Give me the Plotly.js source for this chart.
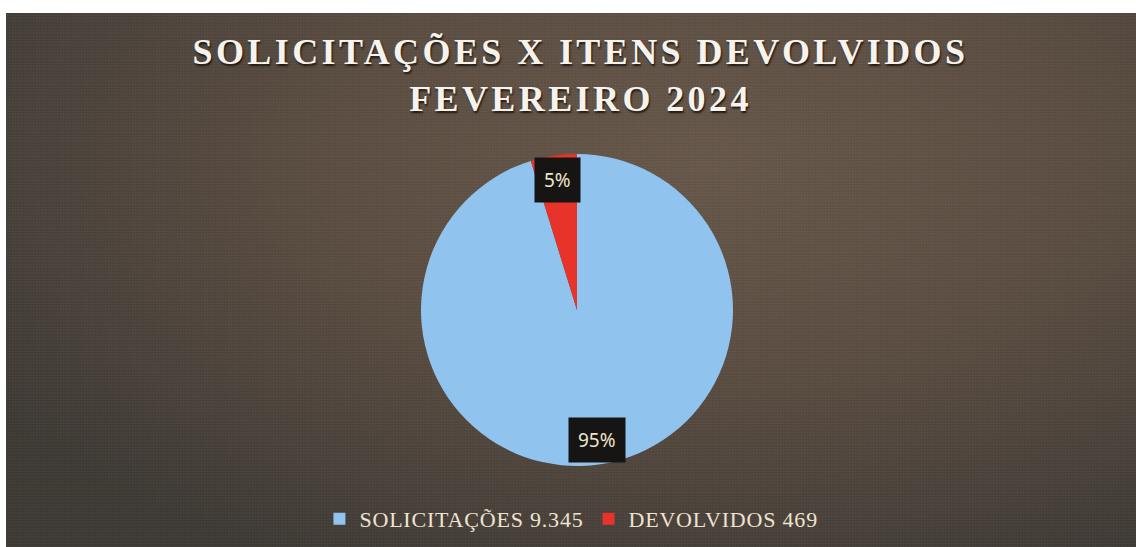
<!DOCTYPE html>
<html>
<head>
<meta charset="utf-8">
<script src="https://cdn.plot.ly/plotly-3.0.1.min.js"></script>
<style>
  html, body { margin: 0; padding: 0; background: #ffffff; }
  #wrap { position: relative; width: 1136px; height: 547px; overflow: hidden; background: #fff; }
  #bg {
    position: absolute; left: 6px; top: 13px; right: 0; bottom: 0;
    background:
      repeating-linear-gradient(0deg, rgba(255,255,255,0.025) 0px, rgba(255,255,255,0.025) 1px, rgba(0,0,0,0.03) 2px, rgba(0,0,0,0) 3px),
      repeating-linear-gradient(90deg, rgba(255,255,255,0.02) 0px, rgba(0,0,0,0.03) 2px, rgba(0,0,0,0) 3px),
      radial-gradient(ellipse 75% 85% at 62% 28%, #67574a 0%, #5b4d41 45%, #49413a 80%, #3d3933 100%);
  }
  #chart { position: absolute; left: 0; top: 0; width: 1136px; height: 547px; }
  .gtitle { letter-spacing: 3.4px; text-shadow: 1px 2px 2px rgba(0,0,0,0.7); }
  .legendtext { letter-spacing: 0.8px; }
</style>
</head>
<body>
<div id="wrap">
  <div id="bg"></div>
  <div id="chart"></div>
</div>
<script>
// ---- data ----
const categories = ['SOLICITAÇÕES', 'DEVOLVIDOS'];
const values = [9345, 469];
const sliceColors = ['#91c3ef', '#e8332a'];
const titleLines = ['SOLICITAÇÕES X ITENS DEVOLVIDOS', 'FEVEREIRO 2024'];

// ---- helpers ----
function fmtBR(n) {
  return String(n).replace(/\B(?=(\d{3})+(?!\d))/g, '.');
}
const legendLabels = categories.map((c, i) => c + ' ' + fmtBR(values[i]));
const total = values.reduce((a, b) => a + b, 0);

// ---- layout geometry (pixels) ----
const W = 1136, H = 547;
const cx = 577, cy = 310, R = 156;

const domain = {
  x: [(cx - R) / W, (cx + R) / W],
  y: [1 - (cy + R) / H, 1 - (cy - R) / H]
};

// data labels positioned at slice mid-angles ("inside end")
const annotations = [];
let cum = 0;
values.forEach((v, i) => {
  const frac = v / total;
  const midFrac = cum + frac / 2;
  cum += frac;
  const ang = Math.PI / 2 - midFrac * 2 * Math.PI; // clockwise from 12 o'clock
  const r0 = 0.84 * R;
  const px = cx + r0 * Math.cos(ang);
  const py = cy - r0 * Math.sin(ang);
  annotations.push({
    x: px / W, y: 1 - py / H, xref: 'paper', yref: 'paper',
    text: Math.round(frac * 100) + '%',
    showarrow: false,
    bgcolor: '#161514',
    borderpad: 9,
    font: { family: 'Noto Sans, Open Sans, sans-serif', size: 19, color: '#f1e4cc' },
    xanchor: 'center', yanchor: 'middle'
  });
});

const trace = {
  type: 'pie',
  labels: legendLabels,
  values: values,
  marker: { colors: sliceColors, line: { width: 0 } },
  sort: false,
  direction: 'clockwise',
  rotation: 0,
  textinfo: 'none',
  hoverinfo: 'skip',
  domain: domain
};

const layout = {
  width: W, height: H,
  margin: { l: 0, r: 0, t: 0, b: 0 },
  paper_bgcolor: 'rgba(0,0,0,0)',
  plot_bgcolor: 'rgba(0,0,0,0)',
  title: {
    text: titleLines.join('<br>'),
    font: { family: 'Liberation Serif, Times New Roman, serif', size: 36, color: '#f7f3ec', weight: 'bold' },
    x: 0.511, xanchor: 'center',
    y: 1 - 64 / H, yanchor: 'top'
  },
  showlegend: true,
  legend: {
    orientation: 'h',
    x: 0.503, xanchor: 'center',
    y: 1 - 519 / H, yanchor: 'middle',
    font: { family: 'Liberation Serif, Times New Roman, serif', size: 22, color: '#efe3cf' },
    bgcolor: 'rgba(0,0,0,0)',
    itemwidth: 30
  },
  annotations: annotations
};

Plotly.newPlot('chart', [trace], layout, { displayModeBar: false, staticPlot: true });
</script>
</body>
</html>
